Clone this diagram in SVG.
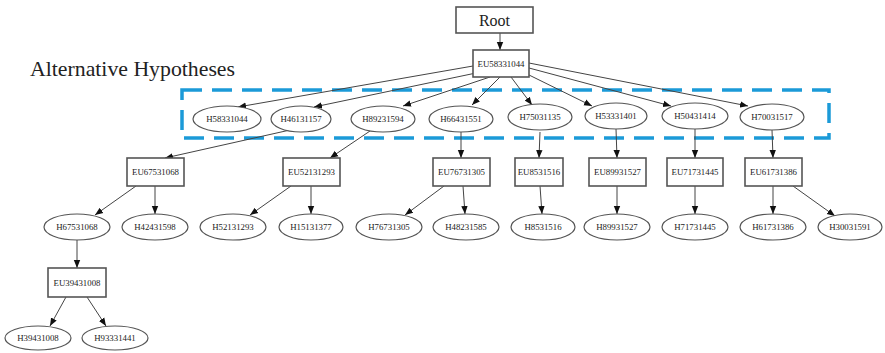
<svg xmlns="http://www.w3.org/2000/svg" width="885" height="353" viewBox="0 0 885 353">
<style>
.n ellipse{fill:#fff;stroke:#555;stroke-width:1.2}
.n rect{fill:#fff;stroke:#555;stroke-width:1.6}
.n text{font-family:"Liberation Serif",serif;font-size:8.8px;fill:#222;text-anchor:middle;dominant-baseline:central}
.e line{stroke:#444;stroke-width:1;marker-end:url(#a)}
</style>
<defs>
<marker id="a" markerUnits="userSpaceOnUse" markerWidth="8" markerHeight="8" viewBox="0 0 10 10" refX="10" refY="5" orient="auto"><path d="M0,1 L10,5 L0,9 Z" fill="#111"/></marker>
</defs>
<rect x="0" y="0" width="885" height="353" fill="#fff"/>
<text x="30" y="76" font-family="Liberation Serif,serif" font-size="21" fill="#222" textLength="205" lengthAdjust="spacingAndGlyphs">Alternative Hypotheses</text>
<rect x="182" y="90" width="647" height="48" fill="none" stroke="#1b9ad8" stroke-width="3.5" stroke-dasharray="20,10"/>
<g class="e">
<line x1="500" y1="33" x2="500" y2="50"/>
<line x1="473" y1="66" x2="238" y2="107"/>
<line x1="476" y1="73" x2="314" y2="107"/>
<line x1="490" y1="77" x2="403" y2="106"/>
<line x1="500" y1="77" x2="472" y2="105"/>
<line x1="511" y1="77" x2="532" y2="105"/>
<line x1="527" y1="74" x2="592" y2="106"/>
<line x1="529" y1="68" x2="671" y2="106"/>
<line x1="529" y1="63" x2="748" y2="106"/>
<line x1="290" y1="130" x2="165" y2="158"/>
<line x1="370" y1="131" x2="330" y2="158"/>
<line x1="461" y1="132" x2="461" y2="158"/>
<line x1="540" y1="132" x2="539" y2="158"/>
<line x1="616" y1="129" x2="617" y2="158"/>
<line x1="695" y1="129" x2="695" y2="158"/>
<line x1="772" y1="130" x2="773" y2="158"/>
<line x1="136" y1="186" x2="95" y2="215"/>
<line x1="155" y1="186" x2="155" y2="214"/>
<line x1="291" y1="186" x2="250" y2="215"/>
<line x1="311" y1="186" x2="311" y2="214"/>
<line x1="444" y1="186" x2="405" y2="215"/>
<line x1="463" y1="186" x2="465" y2="214"/>
<line x1="540" y1="186" x2="542" y2="214"/>
<line x1="617" y1="186" x2="617" y2="214"/>
<line x1="695" y1="186" x2="695" y2="214"/>
<line x1="773" y1="186" x2="773" y2="214"/>
<line x1="793" y1="186" x2="835" y2="216"/>
<line x1="77" y1="240" x2="77" y2="268"/>
<line x1="66" y1="297" x2="50" y2="326"/>
<line x1="87" y1="297" x2="106" y2="326"/>
</g>
<g id="root" class="n"><rect x="456" y="7" width="77" height="26"/><text x="494.5" y="20" style="font-size:16px">Root</text></g>
<g id="eu58331044" class="n"><rect x="473" y="50" width="56" height="27"/><text x="501" y="63.5">EU58331044</text></g>
<g id="h58331044" class="n"><ellipse cx="227" cy="119" rx="34" ry="13"/><text x="227" y="119">H58331044</text></g>
<g id="h46131157" class="n"><ellipse cx="301" cy="119" rx="30" ry="13"/><text x="301" y="119">H46131157</text></g>
<g id="h89231594" class="n"><ellipse cx="383" cy="119" rx="32" ry="13"/><text x="383" y="119">H89231594</text></g>
<g id="h66431551" class="n"><ellipse cx="461" cy="119" rx="32" ry="13"/><text x="461" y="119">H66431551</text></g>
<g id="h75031135" class="n"><ellipse cx="540" cy="117" rx="32" ry="13"/><text x="540" y="117">H75031135</text></g>
<g id="h53331401" class="n"><ellipse cx="616" cy="116" rx="31" ry="13"/><text x="616" y="116">H53331401</text></g>
<g id="h50431414" class="n"><ellipse cx="695" cy="116" rx="33" ry="13"/><text x="695" y="116">H50431414</text></g>
<g id="h70031517" class="n"><ellipse cx="772" cy="117" rx="32" ry="13"/><text x="772" y="117">H70031517</text></g>
<g id="eu67531068" class="n"><rect x="127" y="158" width="57" height="28"/><text x="155.5" y="172">EU67531068</text></g>
<g id="eu52131293" class="n"><rect x="283" y="158" width="57" height="28"/><text x="311.5" y="172">EU52131293</text></g>
<g id="eu76731305" class="n"><rect x="433" y="158" width="57" height="28"/><text x="461.5" y="172">EU76731305</text></g>
<g id="eu8531516" class="n"><rect x="515" y="158" width="48" height="28"/><text x="539" y="172">EU8531516</text></g>
<g id="eu89931527" class="n"><rect x="589" y="158" width="57" height="28"/><text x="617.5" y="172">EU89931527</text></g>
<g id="eu71731445" class="n"><rect x="667" y="158" width="56" height="28"/><text x="695" y="172">EU71731445</text></g>
<g id="eu61731386" class="n"><rect x="745" y="158" width="57" height="28"/><text x="773.5" y="172">EU61731386</text></g>
<g id="h67531068" class="n"><ellipse cx="77" cy="227" rx="33" ry="13"/><text x="77" y="227">H67531068</text></g>
<g id="h42431598" class="n"><ellipse cx="155" cy="227" rx="33" ry="13"/><text x="155" y="227">H42431598</text></g>
<g id="h52131293" class="n"><ellipse cx="233" cy="227" rx="33" ry="13"/><text x="233" y="227">H52131293</text></g>
<g id="h15131377" class="n"><ellipse cx="311" cy="227" rx="32" ry="13"/><text x="311" y="227">H15131377</text></g>
<g id="h76731305" class="n"><ellipse cx="389" cy="227" rx="33" ry="13"/><text x="389" y="227">H76731305</text></g>
<g id="h48231585" class="n"><ellipse cx="466" cy="227" rx="33" ry="13"/><text x="466" y="227">H48231585</text></g>
<g id="h8531516" class="n"><ellipse cx="543" cy="227" rx="32" ry="13"/><text x="543" y="227">H8531516</text></g>
<g id="h89931527" class="n"><ellipse cx="617" cy="227" rx="33" ry="13"/><text x="617" y="227">H89931527</text></g>
<g id="h71731445" class="n"><ellipse cx="695" cy="227" rx="33" ry="13"/><text x="695" y="227">H71731445</text></g>
<g id="h61731386" class="n"><ellipse cx="773" cy="227" rx="33" ry="13"/><text x="773" y="227">H61731386</text></g>
<g id="h30031591" class="n"><ellipse cx="850" cy="227" rx="32" ry="13"/><text x="850" y="227">H30031591</text></g>
<g id="eu39431008" class="n"><rect x="48" y="268" width="58" height="29"/><text x="77" y="282.5">EU39431008</text></g>
<g id="h39431008" class="n"><ellipse cx="38" cy="338" rx="33" ry="12"/><text x="38" y="338">H39431008</text></g>
<g id="h93331441" class="n"><ellipse cx="115" cy="338" rx="33" ry="12"/><text x="115" y="338">H93331441</text></g>
</svg>
